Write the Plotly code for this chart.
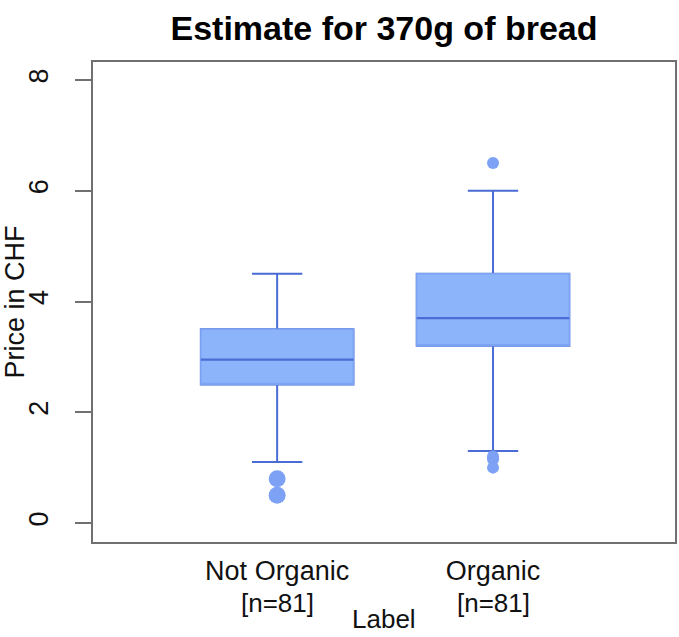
import plotly.graph_objects as go

# Summary statistics of bread prices (CHF, scaled to 370 g)
groups = ["Not Organic", "Organic"]
n_counts = [81, 81]
q1 = [2.5, 3.2]
median = [2.95, 3.7]
q3 = [3.5, 4.5]
lower_whisker = [1.1, 1.3]
upper_whisker = [4.5, 6.0]
outliers_not_organic = [0.8, 0.5]
outliers_organic = [6.5, 1.2, 1.15, 1.0]

y_ticks = [0, 2, 4, 6, 8]

FONT = "Liberation Sans, Arial, Helvetica, sans-serif"
FILL = "#8CB4FA"
EDGE = "#7DA4F2"
DARK = "#4A6CD4"
POINT = "#7DA1F5"
FRAME = "#707070"
TEXT = "#111111"

positions = [1, 2]
box_w = 0.707

fig = go.Figure()

# whiskers, caps and box body
fig.add_trace(go.Box(
    x=positions, q1=q1, median=median, q3=q3,
    lowerfence=lower_whisker, upperfence=upper_whisker,
    width=box_w, whiskerwidth=0.33, fillcolor=FILL,
    line=dict(color=DARK, width=2), boxpoints=False,
    hoverinfo="skip", showlegend=False,
))
# box body with a lighter outline
fig.add_trace(go.Box(
    x=positions, q1=q1, median=q1, q3=q3,
    lowerfence=q1, upperfence=q3,
    width=box_w, whiskerwidth=0, fillcolor=FILL,
    line=dict(color=EDGE, width=1.5), boxpoints=False,
    hoverinfo="skip", showlegend=False,
))
# median line
fig.add_trace(go.Box(
    x=positions, q1=median, median=median, q3=median,
    lowerfence=median, upperfence=median,
    width=box_w, whiskerwidth=0, fillcolor="rgba(0,0,0,0)",
    line=dict(color=DARK, width=2.2), boxpoints=False,
    hoverinfo="skip", showlegend=False,
))

# outliers
fig.add_trace(go.Scatter(
    x=[positions[0]] * len(outliers_not_organic), y=outliers_not_organic,
    mode="markers", marker=dict(color=POINT, size=17),
    hoverinfo="skip", showlegend=False,
))
fig.add_trace(go.Scatter(
    x=[positions[1]] * len(outliers_organic), y=outliers_organic,
    mode="markers", marker=dict(color=POINT, size=12),
    hoverinfo="skip", showlegend=False,
))

# sample sizes under the group names, and the axis caption
annotations = [
    dict(text=f"[n={n}]", x=p, xref="x", y=-0.127, yref="paper",
         xanchor="center", yanchor="middle", showarrow=False,
         font=dict(family=FONT, size=26, color=TEXT))
    for p, n in zip(positions, n_counts)
]
annotations.append(dict(
    text="Label", x=0.5, xref="paper", y=-0.16, yref="paper",
    xanchor="center", yanchor="middle", showarrow=False, borderpad=0,
    font=dict(family=FONT, size=26, color=TEXT),
))

fig.update_layout(
    width=679, height=637,
    margin=dict(l=93, r=2, t=62, b=95),
    paper_bgcolor="white", plot_bgcolor="white",
    boxmode="overlay",
    font=dict(family=FONT, size=27, color=TEXT),
    title=dict(
        text="<b>Estimate for 370g of bread</b>",
        font=dict(family=FONT, size=34, color="#000000"),
        x=0.5, xref="paper", xanchor="center",
        y=1 - 28 / 637, yref="container", yanchor="middle",
    ),
    xaxis=dict(
        range=[0.147, 2.843],
        tickmode="array", tickvals=positions, ticktext=groups,
        ticks="", showgrid=False, zeroline=False,
        showline=True, mirror=True, linecolor=FRAME, linewidth=1.5,
        tickfont=dict(size=27), ticklabelstandoff=4,
    ),
    yaxis=dict(
        range=[-0.343, 8.325],
        tickmode="array", tickvals=y_ticks, ticktext=[str(t) for t in y_ticks],
        ticks="outside", ticklen=16, tickwidth=1.5, tickcolor=FRAME,
        tickangle=-90, ticklabelstandoff=16,
        showgrid=False, zeroline=False,
        showline=True, mirror=True, linecolor=FRAME, linewidth=1.5,
        tickfont=dict(size=27),
        title=dict(text="Price in CHF", font=dict(size=27), standoff=4),
    ),
    annotations=annotations,
)

fig.write_html("out.html")
